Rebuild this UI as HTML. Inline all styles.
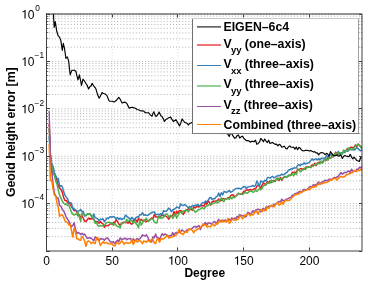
<!DOCTYPE html><html><head><meta charset="utf-8"><style>html,body{margin:0;padding:0;background:#fff;}svg{display:block;will-change:transform;}text{font-family:"Liberation Sans",sans-serif;}</style></head><body>
<svg width="368" height="283" viewBox="0 0 368 283">
<rect width="368" height="283" fill="#fff"/>
<g stroke="#b0b0b0" stroke-width="1" stroke-dasharray="1 2.1"><line x1="49.0" y1="236.73" x2="361.0" y2="236.73"/><line x1="49.0" y1="228.38" x2="361.0" y2="228.38"/><line x1="49.0" y1="222.46" x2="361.0" y2="222.46"/><line x1="49.0" y1="217.87" x2="361.0" y2="217.87"/><line x1="49.0" y1="214.12" x2="361.0" y2="214.12"/><line x1="49.0" y1="210.94" x2="361.0" y2="210.94"/><line x1="49.0" y1="208.19" x2="361.0" y2="208.19"/><line x1="49.0" y1="205.77" x2="361.0" y2="205.77"/><line x1="49.0" y1="203.60" x2="361.0" y2="203.60"/><line x1="49.0" y1="189.33" x2="361.0" y2="189.33"/><line x1="49.0" y1="180.98" x2="361.0" y2="180.98"/><line x1="49.0" y1="175.06" x2="361.0" y2="175.06"/><line x1="49.0" y1="170.47" x2="361.0" y2="170.47"/><line x1="49.0" y1="166.72" x2="361.0" y2="166.72"/><line x1="49.0" y1="163.54" x2="361.0" y2="163.54"/><line x1="49.0" y1="160.79" x2="361.0" y2="160.79"/><line x1="49.0" y1="158.37" x2="361.0" y2="158.37"/><line x1="49.0" y1="156.20" x2="361.0" y2="156.20"/><line x1="49.0" y1="141.93" x2="361.0" y2="141.93"/><line x1="49.0" y1="133.58" x2="361.0" y2="133.58"/><line x1="49.0" y1="127.66" x2="361.0" y2="127.66"/><line x1="49.0" y1="123.07" x2="361.0" y2="123.07"/><line x1="49.0" y1="119.32" x2="361.0" y2="119.32"/><line x1="49.0" y1="116.14" x2="361.0" y2="116.14"/><line x1="49.0" y1="113.39" x2="361.0" y2="113.39"/><line x1="49.0" y1="110.97" x2="361.0" y2="110.97"/><line x1="49.0" y1="108.80" x2="361.0" y2="108.80"/><line x1="49.0" y1="94.53" x2="361.0" y2="94.53"/><line x1="49.0" y1="86.18" x2="361.0" y2="86.18"/><line x1="49.0" y1="80.26" x2="361.0" y2="80.26"/><line x1="49.0" y1="75.67" x2="361.0" y2="75.67"/><line x1="49.0" y1="71.92" x2="361.0" y2="71.92"/><line x1="49.0" y1="68.74" x2="361.0" y2="68.74"/><line x1="49.0" y1="65.99" x2="361.0" y2="65.99"/><line x1="49.0" y1="63.57" x2="361.0" y2="63.57"/><line x1="49.0" y1="61.40" x2="361.0" y2="61.40"/><line x1="49.0" y1="47.13" x2="361.0" y2="47.13"/><line x1="49.0" y1="38.78" x2="361.0" y2="38.78"/><line x1="49.0" y1="32.86" x2="361.0" y2="32.86"/><line x1="49.0" y1="28.27" x2="361.0" y2="28.27"/><line x1="49.0" y1="24.52" x2="361.0" y2="24.52"/><line x1="49.0" y1="21.34" x2="361.0" y2="21.34"/><line x1="49.0" y1="18.59" x2="361.0" y2="18.59"/><line x1="49.0" y1="16.17" x2="361.0" y2="16.17"/><line x1="49.0" y1="14.00" x2="361.0" y2="14.00"/></g>
<g stroke="#dadada" stroke-width="1" stroke-dasharray="1 2.1"><line x1="112.23" y1="15.0" x2="112.23" y2="250.0"/><line x1="177.96" y1="15.0" x2="177.96" y2="250.0"/><line x1="243.69" y1="15.0" x2="243.69" y2="250.0"/><line x1="309.42" y1="15.0" x2="309.42" y2="250.0"/></g>
<defs><clipPath id="c"><rect x="46.5" y="14" width="315.5" height="237"/></clipPath></defs>
<g clip-path="url(#c)" fill="none" stroke-width="1.50" stroke-linejoin="round">
<polyline stroke="#E41A1C" points="49.13,123.72 50.44,155.31 51.76,166.00 53.07,173.32 54.39,175.04 55.70,177.24 57.02,180.56 58.33,185.39 59.65,188.05 60.96,189.41 62.28,192.38 63.59,197.21 64.90,200.56 66.22,200.40 67.53,202.64 68.85,203.69 70.16,202.69 71.48,206.75 72.79,207.53 74.11,210.69 75.42,210.13 76.74,211.42 78.05,215.88 79.37,214.72 80.68,217.46 81.99,215.76 83.31,218.23 84.62,221.19 85.94,221.61 87.25,219.81 88.57,218.15 89.88,219.25 91.20,218.43 92.51,218.64 93.83,219.44 95.14,221.32 96.45,221.39 97.77,222.02 99.08,223.16 100.40,221.64 101.71,223.12 103.03,223.64 104.34,227.32 105.66,225.41 106.97,225.84 108.29,225.56 109.60,224.50 110.92,223.11 112.23,224.51 113.54,222.34 114.86,222.44 116.17,219.68 117.49,221.45 118.80,223.95 120.12,225.36 121.43,223.58 122.75,222.55 124.06,222.47 125.38,222.34 126.69,222.49 128.01,223.14 129.32,221.62 130.63,223.70 131.95,224.13 133.26,221.29 134.58,219.32 135.89,219.98 137.21,222.12 138.52,218.13 139.84,220.75 141.15,219.31 142.47,220.69 143.78,220.51 145.09,220.82 146.41,221.69 147.72,220.36 149.04,220.73 150.35,219.00 151.67,218.07 152.98,218.41 154.30,214.41 155.61,216.83 156.93,217.14 158.24,216.59 159.56,217.81 160.87,216.36 162.18,214.01 163.50,215.97 164.81,215.35 166.13,216.34 167.44,217.26 168.76,219.14 170.07,216.60 171.39,215.69 172.70,215.65 174.02,211.47 175.33,215.57 176.65,211.29 177.96,213.39 179.27,210.69 180.59,210.66 181.90,211.29 183.22,214.53 184.53,212.42 185.85,210.12 187.16,210.23 188.48,208.54 189.79,209.84 191.11,208.65 192.42,210.19 193.74,206.74 195.05,207.89 196.36,206.81 197.68,206.32 198.99,207.02 200.31,205.87 201.62,205.68 202.94,205.58 204.25,205.99 205.57,202.03 206.88,204.32 208.20,200.71 209.51,202.68 210.82,205.02 212.14,201.70 213.45,201.07 214.77,201.42 216.08,200.82 217.40,200.45 218.71,199.01 220.03,201.08 221.34,200.43 222.66,198.57 223.97,198.85 225.29,198.90 226.60,198.98 227.91,197.74 229.23,197.72 230.54,196.09 231.86,194.69 233.17,195.03 234.49,196.56 235.80,196.11 237.12,194.69 238.43,193.42 239.75,193.89 241.06,194.32 242.38,193.46 243.69,191.29 245.00,191.18 246.32,190.00 247.63,189.76 248.95,190.16 250.26,189.45 251.58,190.03 252.89,189.86 254.21,188.83 255.52,188.87 256.84,186.22 258.15,185.05 259.47,186.36 260.78,188.26 262.09,185.15 263.41,182.96 264.72,183.97 266.04,184.73 267.35,181.53 268.67,182.98 269.98,180.92 271.30,182.39 272.61,181.33 273.93,180.28 275.24,181.50 276.56,178.74 277.87,178.21 279.18,180.55 280.50,177.52 281.81,180.36 283.13,177.86 284.44,176.94 285.76,176.97 287.07,176.44 288.39,175.87 289.70,175.02 291.02,175.04 292.33,172.33 293.64,172.60 294.96,172.02 296.27,173.27 297.59,169.08 298.90,170.13 300.22,168.83 301.53,168.76 302.85,169.48 304.16,168.72 305.48,169.18 306.79,166.69 308.11,167.00 309.42,167.35 310.73,166.57 312.05,164.86 313.36,165.74 314.68,163.25 315.99,165.35 317.31,163.25 318.62,162.47 319.94,162.32 321.25,162.35 322.57,162.69 323.88,160.36 325.20,159.62 326.51,160.02 327.82,158.26 329.14,156.98 330.45,158.07 331.77,156.51 333.08,156.87 334.40,154.47 335.71,152.15 337.03,154.67 338.34,154.01 339.66,154.87 340.97,153.30 342.29,152.56 343.60,152.21 344.91,150.64 346.23,150.41 347.54,148.38 348.86,149.52 350.17,147.59 351.49,147.28 352.80,147.63 354.12,147.16 355.43,144.94 356.75,146.75 358.06,143.98 359.37,145.31 360.69,146.62 362.00,147.02"/>
<polyline stroke="#377EB8" points="49.13,136.43 50.44,155.22 51.76,164.15 53.07,166.23 54.39,172.41 55.70,175.65 57.02,178.66 58.33,178.48 59.65,186.54 60.96,185.68 62.28,186.60 63.59,191.33 64.90,195.05 66.22,197.13 67.53,198.75 68.85,202.34 70.16,203.58 71.48,203.13 72.79,209.09 74.11,208.81 75.42,209.77 76.74,211.20 78.05,211.08 79.37,210.77 80.68,209.52 81.99,211.64 83.31,211.49 84.62,216.09 85.94,214.95 87.25,214.55 88.57,213.71 89.88,214.22 91.20,215.20 92.51,217.89 93.83,213.94 95.14,217.63 96.45,218.14 97.77,218.85 99.08,221.10 100.40,219.09 101.71,219.54 103.03,218.77 104.34,221.75 105.66,220.00 106.97,217.96 108.29,218.72 109.60,216.91 110.92,216.73 112.23,217.19 113.54,216.43 114.86,217.37 116.17,219.10 117.49,217.51 118.80,219.43 120.12,218.15 121.43,219.59 122.75,218.69 124.06,218.85 125.38,215.18 126.69,216.14 128.01,217.21 129.32,218.51 130.63,219.28 131.95,217.38 133.26,219.02 134.58,219.75 135.89,217.68 137.21,216.81 138.52,216.89 139.84,214.74 141.15,214.75 142.47,212.72 143.78,215.16 145.09,214.79 146.41,215.23 147.72,215.49 149.04,214.37 150.35,213.38 151.67,212.70 152.98,212.07 154.30,211.93 155.61,214.80 156.93,214.47 158.24,214.22 159.56,214.74 160.87,213.61 162.18,214.91 163.50,210.81 164.81,211.17 166.13,211.33 167.44,210.03 168.76,208.08 170.07,209.32 171.39,211.73 172.70,209.84 174.02,209.29 175.33,208.60 176.65,206.96 177.96,207.40 179.27,208.26 180.59,203.81 181.90,205.36 183.22,205.57 184.53,204.56 185.85,205.46 187.16,206.50 188.48,207.87 189.79,206.61 191.11,207.25 192.42,205.35 193.74,206.05 195.05,205.14 196.36,205.31 197.68,204.27 198.99,205.84 200.31,205.65 201.62,203.49 202.94,202.65 204.25,202.43 205.57,201.05 206.88,201.84 208.20,200.36 209.51,197.84 210.82,197.53 212.14,199.47 213.45,198.73 214.77,198.72 216.08,196.89 217.40,196.17 218.71,193.11 220.03,196.46 221.34,192.69 222.66,194.88 223.97,191.58 225.29,191.82 226.60,192.49 227.91,191.33 229.23,190.58 230.54,192.24 231.86,191.57 233.17,190.83 234.49,189.51 235.80,188.52 237.12,188.58 238.43,188.14 239.75,188.42 241.06,189.11 242.38,187.67 243.69,186.63 245.00,186.56 246.32,188.56 247.63,186.93 248.95,186.71 250.26,186.38 251.58,186.36 252.89,185.45 254.21,186.27 255.52,185.46 256.84,180.90 258.15,183.50 259.47,186.32 260.78,180.88 262.09,181.79 263.41,182.17 264.72,180.30 266.04,181.09 267.35,177.77 268.67,177.40 269.98,178.16 271.30,177.19 272.61,176.46 273.93,177.80 275.24,177.10 276.56,176.43 277.87,175.60 279.18,175.89 280.50,175.10 281.81,174.09 283.13,174.94 284.44,174.15 285.76,172.97 287.07,172.35 288.39,170.24 289.70,169.84 291.02,168.82 292.33,169.14 293.64,167.91 294.96,168.09 296.27,167.81 297.59,165.54 298.90,164.45 300.22,165.57 301.53,164.44 302.85,164.16 304.16,162.90 305.48,164.10 306.79,163.24 308.11,162.93 309.42,162.32 310.73,160.64 312.05,158.83 313.36,160.20 314.68,159.33 315.99,158.91 317.31,159.92 318.62,158.63 319.94,159.90 321.25,158.35 322.57,158.56 323.88,158.12 325.20,158.10 326.51,155.59 327.82,157.32 329.14,155.86 330.45,154.29 331.77,155.30 333.08,154.52 334.40,155.02 335.71,154.22 337.03,153.60 338.34,151.41 339.66,154.32 340.97,153.88 342.29,152.93 343.60,152.28 344.91,152.61 346.23,150.22 347.54,151.34 348.86,150.30 350.17,148.93 351.49,149.86 352.80,149.47 354.12,149.99 355.43,149.36 356.75,147.75 358.06,148.44 359.37,150.03 360.69,150.75 362.00,150.30"/>
<polyline stroke="#4DAF4A" points="49.13,128.67 50.44,158.25 51.76,165.86 53.07,173.14 54.39,175.02 55.70,181.12 57.02,184.33 58.33,190.40 59.65,195.40 60.96,198.03 62.28,201.23 63.59,202.96 64.90,204.31 66.22,204.08 67.53,205.58 68.85,204.88 70.16,208.84 71.48,212.21 72.79,214.11 74.11,215.08 75.42,214.08 76.74,214.60 78.05,212.28 79.37,217.16 80.68,221.28 81.99,213.00 83.31,214.55 84.62,215.15 85.94,215.94 87.25,213.72 88.57,214.00 89.88,213.44 91.20,216.18 92.51,216.26 93.83,219.00 95.14,223.30 96.45,222.37 97.77,225.64 99.08,226.32 100.40,225.62 101.71,225.94 103.03,225.61 104.34,225.43 105.66,223.61 106.97,222.63 108.29,222.35 109.60,222.26 110.92,223.40 112.23,222.97 113.54,225.15 114.86,223.56 116.17,225.33 117.49,226.53 118.80,226.57 120.12,227.98 121.43,223.41 122.75,223.48 124.06,222.07 125.38,222.45 126.69,219.30 128.01,221.56 129.32,220.32 130.63,220.72 131.95,220.58 133.26,223.31 134.58,221.18 135.89,223.51 137.21,224.85 138.52,227.75 139.84,219.90 141.15,225.14 142.47,223.16 143.78,219.82 145.09,220.03 146.41,218.18 147.72,221.34 149.04,220.76 150.35,219.64 151.67,218.81 152.98,219.12 154.30,222.12 155.61,222.95 156.93,222.79 158.24,217.65 159.56,215.80 160.87,218.31 162.18,218.09 163.50,217.17 164.81,215.37 166.13,214.07 167.44,214.29 168.76,216.99 170.07,215.76 171.39,215.52 172.70,218.53 174.02,216.13 175.33,213.59 176.65,218.29 177.96,215.48 179.27,212.97 180.59,211.68 181.90,213.56 183.22,211.44 184.53,210.72 185.85,210.16 187.16,210.53 188.48,211.95 189.79,209.34 191.11,207.41 192.42,209.07 193.74,210.13 195.05,212.10 196.36,211.80 197.68,210.25 198.99,209.72 200.31,209.18 201.62,207.69 202.94,208.05 204.25,208.91 205.57,206.83 206.88,205.87 208.20,205.45 209.51,204.35 210.82,203.94 212.14,204.11 213.45,203.04 214.77,203.06 216.08,200.98 217.40,203.05 218.71,202.11 220.03,199.97 221.34,197.92 222.66,200.55 223.97,201.62 225.29,198.82 226.60,198.77 227.91,198.27 229.23,199.46 230.54,197.03 231.86,198.92 233.17,196.76 234.49,197.77 235.80,196.12 237.12,195.26 238.43,193.19 239.75,193.69 241.06,193.82 242.38,194.54 243.69,193.64 245.00,192.11 246.32,193.04 247.63,193.32 248.95,191.61 250.26,191.14 251.58,191.06 252.89,192.32 254.21,191.87 255.52,190.06 256.84,191.41 258.15,190.00 259.47,188.65 260.78,189.83 262.09,188.31 263.41,185.56 264.72,185.40 266.04,184.81 267.35,182.86 268.67,182.88 269.98,183.19 271.30,180.04 272.61,181.74 273.93,181.63 275.24,180.85 276.56,178.55 277.87,179.88 279.18,178.29 280.50,179.36 281.81,179.00 283.13,178.23 284.44,176.84 285.76,176.45 287.07,177.30 288.39,175.03 289.70,175.81 291.02,175.26 292.33,173.94 293.64,175.94 294.96,173.14 296.27,174.59 297.59,170.08 298.90,169.34 300.22,171.91 301.53,171.06 302.85,169.63 304.16,169.36 305.48,167.06 306.79,167.76 308.11,166.85 309.42,167.11 310.73,167.65 312.05,166.33 313.36,166.12 314.68,164.57 315.99,164.30 317.31,164.24 318.62,163.17 319.94,163.97 321.25,161.23 322.57,163.19 323.88,159.75 325.20,161.02 326.51,158.60 327.82,160.27 329.14,158.16 330.45,157.76 331.77,157.43 333.08,155.45 334.40,154.46 335.71,152.98 337.03,155.57 338.34,153.19 339.66,152.76 340.97,152.77 342.29,154.18 343.60,150.08 344.91,151.46 346.23,150.32 347.54,150.68 348.86,147.92 350.17,148.75 351.49,149.41 352.80,149.07 354.12,148.28 355.43,145.47 356.75,145.39 358.06,144.44 359.37,144.87 360.69,146.98 362.00,149.33"/>
<polyline stroke="#984EA3" points="49.13,111.12 50.44,160.38 51.76,171.68 53.07,184.07 54.39,193.26 55.70,195.92 57.02,197.69 58.33,198.25 59.65,205.51 60.96,206.44 62.28,209.28 63.59,210.68 64.90,213.71 66.22,217.05 67.53,219.19 68.85,221.13 70.16,224.17 71.48,226.80 72.79,225.53 74.11,222.73 75.42,229.28 76.74,233.75 78.05,232.43 79.37,233.16 80.68,234.35 81.99,233.37 83.31,234.87 84.62,234.03 85.94,236.42 87.25,238.25 88.57,237.88 89.88,237.79 91.20,238.22 92.51,239.53 93.83,240.83 95.14,236.87 96.45,237.81 97.77,239.50 99.08,240.84 100.40,238.55 101.71,238.92 103.03,238.96 104.34,240.34 105.66,238.83 106.97,237.79 108.29,238.87 109.60,240.97 110.92,242.08 112.23,242.09 113.54,241.76 114.86,243.63 116.17,241.67 117.49,240.16 118.80,241.78 120.12,238.05 121.43,239.10 122.75,239.44 124.06,238.70 125.38,238.11 126.69,239.76 128.01,238.69 129.32,238.87 130.63,238.44 131.95,241.71 133.26,238.71 134.58,241.05 135.89,239.66 137.21,238.48 138.52,239.65 139.84,238.84 141.15,237.09 142.47,234.79 143.78,235.75 145.09,236.02 146.41,234.75 147.72,237.28 149.04,239.80 150.35,240.73 151.67,242.00 152.98,236.83 154.30,237.73 155.61,234.10 156.93,237.64 158.24,237.76 159.56,239.42 160.87,236.48 162.18,233.81 163.50,235.14 164.81,233.94 166.13,234.57 167.44,235.60 168.76,236.39 170.07,235.59 171.39,235.60 172.70,232.52 174.02,235.77 175.33,233.01 176.65,232.55 177.96,232.96 179.27,232.08 180.59,231.85 181.90,229.96 183.22,230.86 184.53,231.38 185.85,231.87 187.16,229.70 188.48,229.48 189.79,229.31 191.11,229.11 192.42,228.09 193.74,226.93 195.05,226.39 196.36,227.40 197.68,226.27 198.99,225.63 200.31,229.42 201.62,226.07 202.94,225.69 204.25,224.41 205.57,222.53 206.88,225.03 208.20,223.08 209.51,222.93 210.82,223.86 212.14,223.50 213.45,222.16 214.77,221.54 216.08,223.85 217.40,221.70 218.71,219.47 220.03,221.49 221.34,220.52 222.66,220.16 223.97,220.75 225.29,219.98 226.60,221.92 227.91,219.52 229.23,219.36 230.54,220.23 231.86,217.96 233.17,219.62 234.49,218.04 235.80,219.09 237.12,216.30 238.43,217.36 239.75,214.62 241.06,215.54 242.38,215.65 243.69,215.77 245.00,217.02 246.32,216.42 247.63,212.44 248.95,212.66 250.26,214.43 251.58,213.10 252.89,210.71 254.21,212.28 255.52,210.11 256.84,209.97 258.15,209.10 259.47,209.68 260.78,211.83 262.09,209.40 263.41,208.41 264.72,210.63 266.04,207.10 267.35,206.91 268.67,206.27 269.98,206.44 271.30,205.18 272.61,206.40 273.93,204.16 275.24,204.47 276.56,203.62 277.87,202.07 279.18,201.44 280.50,201.81 281.81,199.18 283.13,200.84 284.44,200.33 285.76,199.76 287.07,199.02 288.39,198.65 289.70,197.64 291.02,197.30 292.33,195.12 293.64,195.52 294.96,193.59 296.27,193.80 297.59,192.47 298.90,192.03 300.22,191.23 301.53,192.68 302.85,190.03 304.16,189.45 305.48,190.26 306.79,189.69 308.11,188.72 309.42,187.05 310.73,186.56 312.05,187.19 313.36,184.68 314.68,185.39 315.99,184.73 317.31,183.57 318.62,181.96 319.94,184.37 321.25,182.37 322.57,182.04 323.88,181.13 325.20,180.22 326.51,180.43 327.82,180.36 329.14,179.14 330.45,179.24 331.77,179.38 333.08,178.38 334.40,177.41 335.71,177.78 337.03,176.99 338.34,176.31 339.66,174.13 340.97,172.55 342.29,174.23 343.60,173.09 344.91,172.32 346.23,172.69 347.54,171.47 348.86,170.93 350.17,172.71 351.49,169.28 352.80,171.06 354.12,170.82 355.43,171.10 356.75,169.34 358.06,169.17 359.37,167.49 360.69,167.88 362.00,165.72"/>
<polyline stroke="#FF7F00" points="49.13,143.88 50.44,180.56 51.76,180.57 53.07,188.96 54.39,195.17 55.70,196.21 57.02,203.20 58.33,207.93 59.65,216.34 60.96,214.92 62.28,214.87 63.59,217.16 64.90,220.73 66.22,221.93 67.53,222.67 68.85,224.92 70.16,224.51 71.48,230.57 72.79,237.09 74.11,228.05 75.42,231.44 76.74,238.67 78.05,238.84 79.37,240.03 80.68,240.30 81.99,236.37 83.31,238.05 84.62,241.09 85.94,246.34 87.25,241.72 88.57,240.95 89.88,241.86 91.20,243.63 92.51,242.35 93.83,242.81 95.14,243.66 96.45,238.34 97.77,237.57 99.08,241.30 100.40,245.42 101.71,243.56 103.03,241.70 104.34,243.19 105.66,242.57 106.97,242.83 108.29,243.64 109.60,243.66 110.92,243.91 112.23,243.54 113.54,245.79 114.86,245.84 116.17,243.40 117.49,242.42 118.80,243.91 120.12,243.26 121.43,240.89 122.75,241.89 124.06,244.29 125.38,242.70 126.69,242.49 128.01,243.43 129.32,243.02 130.63,242.67 131.95,239.43 133.26,244.45 134.58,241.77 135.89,239.78 137.21,242.23 138.52,241.09 139.84,240.52 141.15,241.94 142.47,243.62 143.78,240.93 145.09,241.38 146.41,242.31 147.72,240.25 149.04,241.13 150.35,242.11 151.67,239.26 152.98,239.53 154.30,242.85 155.61,243.54 156.93,239.57 158.24,238.78 159.56,242.24 160.87,239.03 162.18,238.80 163.50,239.03 164.81,237.92 166.13,236.48 167.44,235.00 168.76,238.13 170.07,237.42 171.39,237.23 172.70,236.37 174.02,236.44 175.33,235.51 176.65,234.56 177.96,232.06 179.27,229.43 180.59,233.60 181.90,233.48 183.22,234.59 184.53,232.41 185.85,231.37 187.16,232.44 188.48,229.28 189.79,229.63 191.11,229.30 192.42,230.72 193.74,232.82 195.05,230.20 196.36,230.12 197.68,228.93 198.99,228.55 200.31,227.30 201.62,227.13 202.94,223.86 204.25,225.10 205.57,224.59 206.88,226.99 208.20,226.36 209.51,226.57 210.82,226.70 212.14,223.89 213.45,225.23 214.77,225.97 216.08,223.07 217.40,224.23 218.71,222.42 220.03,220.39 221.34,222.32 222.66,220.93 223.97,221.85 225.29,220.93 226.60,221.65 227.91,218.45 229.23,223.32 230.54,222.21 231.86,219.94 233.17,219.05 234.49,219.82 235.80,220.19 237.12,219.48 238.43,219.04 239.75,215.89 241.06,216.45 242.38,218.86 243.69,217.18 245.00,214.79 246.32,215.06 247.63,213.96 248.95,213.97 250.26,215.93 251.58,213.93 252.89,214.93 254.21,213.44 255.52,211.14 256.84,211.61 258.15,214.30 259.47,210.54 260.78,209.77 262.09,211.71 263.41,210.02 264.72,209.44 266.04,210.49 267.35,206.64 268.67,208.37 269.98,206.34 271.30,205.47 272.61,205.55 273.93,207.00 275.24,205.18 276.56,203.00 277.87,203.20 279.18,205.26 280.50,204.25 281.81,201.69 283.13,204.54 284.44,201.47 285.76,200.36 287.07,200.38 288.39,200.40 289.70,200.18 291.02,198.92 292.33,197.16 293.64,196.12 294.96,194.67 296.27,194.69 297.59,193.74 298.90,194.04 300.22,192.18 301.53,192.40 302.85,191.59 304.16,190.82 305.48,190.37 306.79,189.92 308.11,189.00 309.42,189.84 310.73,188.64 312.05,186.56 313.36,187.48 314.68,186.51 315.99,186.82 317.31,184.67 318.62,184.26 319.94,183.42 321.25,183.77 322.57,183.71 323.88,183.02 325.20,182.23 326.51,182.59 327.82,181.72 329.14,181.37 330.45,179.78 331.77,180.33 333.08,178.73 334.40,178.37 335.71,178.80 337.03,180.09 338.34,178.57 339.66,177.16 340.97,176.49 342.29,177.07 343.60,177.01 344.91,176.47 346.23,174.79 347.54,174.74 348.86,173.88 350.17,173.53 351.49,172.62 352.80,172.64 354.12,170.36 355.43,170.71 356.75,171.67 358.06,169.89 359.37,170.71 360.69,169.17 362.00,169.16"/>
<polyline stroke="#000" stroke-width="1.15" points="53.20,10.00 54.20,27.30 55.30,21.70 56.80,31.50 58.10,35.70 59.50,37.10 60.80,40.40 62.30,50.50 63.30,43.40 64.50,48.40 65.90,58.30 67.30,56.90 68.70,61.10 69.40,68.20 70.20,74.80 71.70,70.60 72.79,70.22 74.50,70.20 75.90,71.30 76.74,75.13 78.00,79.80 79.40,74.80 80.68,81.06 81.50,85.40 83.00,79.10 84.62,81.26 85.80,83.30 87.25,85.44 88.60,89.00 89.88,86.72 91.20,85.75 92.10,83.30 93.83,86.07 95.70,88.30 97.77,95.07 99.20,98.20 100.40,96.02 102.10,92.40 103.03,93.24 104.34,93.75 105.30,94.10 106.97,95.59 108.80,100.30 109.60,101.25 110.92,101.27 112.40,101.20 114.10,102.10 116.17,100.52 117.70,98.60 118.80,97.45 120.30,99.40 122.10,103.00 124.70,102.10 126.69,103.31 128.01,105.87 129.20,108.30 130.63,107.52 132.70,107.40 135.30,108.30 137.21,109.47 138.90,110.00 139.84,110.20 141.15,111.04 142.40,110.90 143.78,111.04 145.09,112.56 145.90,112.70 148.50,112.70 150.35,114.85 152.10,116.20 152.98,113.33 153.80,111.80 155.61,116.26 156.50,116.20 158.24,113.94 159.10,112.10 160.87,115.84 161.80,116.20 163.50,119.12 164.40,121.50 166.13,119.18 167.10,118.90 168.76,117.74 170.60,117.10 173.30,121.50 175.90,119.70 177.96,123.15 179.50,125.90 180.59,123.52 182.10,118.90 183.22,120.57 184.80,122.40 185.85,122.78 187.16,123.31 188.30,125.00 189.79,123.43 191.80,122.40 193.74,124.59 195.05,122.94 196.36,124.67 197.68,125.45 198.99,123.92 200.31,126.15 201.62,127.92 202.94,124.67 204.25,126.92 205.57,127.55 206.88,127.17 208.20,129.01 209.51,128.78 210.82,127.65 212.14,130.58 213.45,130.82 214.77,131.53 216.08,132.49 217.40,131.71 218.71,131.94 220.03,130.94 221.34,133.62 222.66,132.83 223.97,133.57 225.29,133.04 226.60,133.59 227.91,134.30 229.23,136.51 230.54,133.05 231.86,133.87 233.17,136.11 234.49,138.13 235.80,137.87 237.12,135.61 238.43,134.95 239.75,138.09 241.06,136.84 242.38,136.14 243.69,138.18 245.00,139.51 246.32,140.57 247.63,140.67 248.95,140.88 250.26,142.15 251.58,141.30 252.89,141.41 254.21,141.67 255.52,140.21 256.84,144.31 258.15,143.46 259.47,142.13 260.78,138.51 262.09,139.87 263.41,141.73 264.72,139.06 266.04,141.04 267.35,142.55 268.67,140.17 269.98,143.57 271.30,142.85 272.61,142.54 273.93,143.51 275.24,144.32 276.56,144.19 277.87,145.77 279.18,144.27 280.50,145.09 281.81,147.23 283.13,146.66 284.44,146.20 285.76,148.44 287.07,149.01 288.39,146.91 289.70,145.88 291.02,147.25 292.33,147.24 293.64,147.11 294.96,149.31 296.27,146.96 297.59,149.80 298.90,147.34 300.22,148.19 301.53,150.08 302.85,150.85 304.16,150.73 305.48,150.33 306.79,150.28 308.11,150.47 309.42,151.10 310.73,150.49 312.05,151.31 313.36,151.96 314.68,151.66 315.99,152.82 317.31,152.93 318.62,154.84 319.94,153.19 321.25,152.53 322.57,152.76 323.88,153.33 325.20,154.53 326.51,153.31 327.82,154.31 329.14,156.16 330.45,151.65 331.77,153.43 333.08,155.19 334.40,155.62 335.71,155.60 337.03,154.93 338.34,156.19 339.66,155.85 340.97,155.04 342.29,158.35 343.60,156.26 344.91,155.52 346.23,156.27 347.54,156.39 348.86,156.82 350.17,154.39 351.49,156.86 352.80,159.00 354.12,157.11 355.43,158.82 356.75,160.44 358.06,160.84 359.37,161.48 360.69,157.53 362.00,158.81"/>
</g>
<g fill="none">
<line x1="46.5" y1="13" x2="46.5" y2="252" stroke="#404040" stroke-width="1"/>
<g stroke="#000" stroke-width="0.75">
<line x1="47" y1="14" x2="362.5" y2="14"/>
<line x1="47" y1="251" x2="362.5" y2="251"/>
<line x1="362" y1="14.4" x2="362" y2="250.6"/>
</g><g stroke="#808080" stroke-width="1" stroke-dasharray="1 2">
<line x1="48" y1="14" x2="361" y2="14"/>
</g>
<g stroke="#404040" stroke-width="1"><line x1="47" y1="251.5" x2="50" y2="251.5"/><line x1="359" y1="251.5" x2="362" y2="251.5"/><line x1="47" y1="203.5" x2="50" y2="203.5"/><line x1="359" y1="203.5" x2="362" y2="203.5"/><line x1="47" y1="156.5" x2="50" y2="156.5"/><line x1="359" y1="156.5" x2="362" y2="156.5"/><line x1="47" y1="108.5" x2="50" y2="108.5"/><line x1="359" y1="108.5" x2="362" y2="108.5"/><line x1="47" y1="61.5" x2="50" y2="61.5"/><line x1="359" y1="61.5" x2="362" y2="61.5"/><line x1="47" y1="14.5" x2="50" y2="14.5"/><line x1="359" y1="14.5" x2="362" y2="14.5"/><line x1="46.5" y1="250.5" x2="46.5" y2="247.5"/><line x1="46.5" y1="14.5" x2="46.5" y2="17.5"/><line x1="112.5" y1="250.5" x2="112.5" y2="247.5"/><line x1="112.5" y1="14.5" x2="112.5" y2="17.5"/><line x1="177.5" y1="250.5" x2="177.5" y2="247.5"/><line x1="177.5" y1="14.5" x2="177.5" y2="17.5"/><line x1="243.5" y1="250.5" x2="243.5" y2="247.5"/><line x1="243.5" y1="14.5" x2="243.5" y2="17.5"/><line x1="309.5" y1="250.5" x2="309.5" y2="247.5"/><line x1="309.5" y1="14.5" x2="309.5" y2="17.5"/></g>
<g stroke="#909090" stroke-width="1"><line x1="47" y1="236.5" x2="48" y2="236.5" stroke="#707070"/><line x1="48" y1="236.5" x2="49" y2="236.5" stroke="#d8d8d8"/><line x1="361" y1="236.5" x2="362" y2="236.5" stroke="#606060"/><line x1="47" y1="228.5" x2="48" y2="228.5" stroke="#707070"/><line x1="48" y1="228.5" x2="49" y2="228.5" stroke="#d8d8d8"/><line x1="361" y1="228.5" x2="362" y2="228.5" stroke="#606060"/><line x1="47" y1="222.5" x2="48" y2="222.5" stroke="#707070"/><line x1="48" y1="222.5" x2="49" y2="222.5" stroke="#d8d8d8"/><line x1="361" y1="222.5" x2="362" y2="222.5" stroke="#606060"/><line x1="47" y1="217.5" x2="48" y2="217.5" stroke="#707070"/><line x1="48" y1="217.5" x2="49" y2="217.5" stroke="#d8d8d8"/><line x1="361" y1="217.5" x2="362" y2="217.5" stroke="#606060"/><line x1="47" y1="214.5" x2="48" y2="214.5" stroke="#707070"/><line x1="48" y1="214.5" x2="49" y2="214.5" stroke="#d8d8d8"/><line x1="361" y1="214.5" x2="362" y2="214.5" stroke="#606060"/><line x1="47" y1="210.5" x2="48" y2="210.5" stroke="#707070"/><line x1="48" y1="210.5" x2="49" y2="210.5" stroke="#d8d8d8"/><line x1="361" y1="210.5" x2="362" y2="210.5" stroke="#606060"/><line x1="47" y1="208.5" x2="48" y2="208.5" stroke="#707070"/><line x1="48" y1="208.5" x2="49" y2="208.5" stroke="#d8d8d8"/><line x1="361" y1="208.5" x2="362" y2="208.5" stroke="#606060"/><line x1="47" y1="205.5" x2="48" y2="205.5" stroke="#707070"/><line x1="48" y1="205.5" x2="49" y2="205.5" stroke="#d8d8d8"/><line x1="361" y1="205.5" x2="362" y2="205.5" stroke="#606060"/><line x1="47" y1="189.5" x2="48" y2="189.5" stroke="#707070"/><line x1="48" y1="189.5" x2="49" y2="189.5" stroke="#d8d8d8"/><line x1="361" y1="189.5" x2="362" y2="189.5" stroke="#606060"/><line x1="47" y1="180.5" x2="48" y2="180.5" stroke="#707070"/><line x1="48" y1="180.5" x2="49" y2="180.5" stroke="#d8d8d8"/><line x1="361" y1="180.5" x2="362" y2="180.5" stroke="#606060"/><line x1="47" y1="175.5" x2="48" y2="175.5" stroke="#707070"/><line x1="48" y1="175.5" x2="49" y2="175.5" stroke="#d8d8d8"/><line x1="361" y1="175.5" x2="362" y2="175.5" stroke="#606060"/><line x1="47" y1="170.5" x2="48" y2="170.5" stroke="#707070"/><line x1="48" y1="170.5" x2="49" y2="170.5" stroke="#d8d8d8"/><line x1="361" y1="170.5" x2="362" y2="170.5" stroke="#606060"/><line x1="47" y1="166.5" x2="48" y2="166.5" stroke="#707070"/><line x1="48" y1="166.5" x2="49" y2="166.5" stroke="#d8d8d8"/><line x1="361" y1="166.5" x2="362" y2="166.5" stroke="#606060"/><line x1="47" y1="163.5" x2="48" y2="163.5" stroke="#707070"/><line x1="48" y1="163.5" x2="49" y2="163.5" stroke="#d8d8d8"/><line x1="361" y1="163.5" x2="362" y2="163.5" stroke="#606060"/><line x1="47" y1="160.5" x2="48" y2="160.5" stroke="#707070"/><line x1="48" y1="160.5" x2="49" y2="160.5" stroke="#d8d8d8"/><line x1="361" y1="160.5" x2="362" y2="160.5" stroke="#606060"/><line x1="47" y1="158.5" x2="48" y2="158.5" stroke="#707070"/><line x1="48" y1="158.5" x2="49" y2="158.5" stroke="#d8d8d8"/><line x1="361" y1="158.5" x2="362" y2="158.5" stroke="#606060"/><line x1="47" y1="141.5" x2="48" y2="141.5" stroke="#707070"/><line x1="48" y1="141.5" x2="49" y2="141.5" stroke="#d8d8d8"/><line x1="361" y1="141.5" x2="362" y2="141.5" stroke="#606060"/><line x1="47" y1="133.5" x2="48" y2="133.5" stroke="#707070"/><line x1="48" y1="133.5" x2="49" y2="133.5" stroke="#d8d8d8"/><line x1="361" y1="133.5" x2="362" y2="133.5" stroke="#606060"/><line x1="47" y1="127.5" x2="48" y2="127.5" stroke="#707070"/><line x1="48" y1="127.5" x2="49" y2="127.5" stroke="#d8d8d8"/><line x1="361" y1="127.5" x2="362" y2="127.5" stroke="#606060"/><line x1="47" y1="123.5" x2="48" y2="123.5" stroke="#707070"/><line x1="48" y1="123.5" x2="49" y2="123.5" stroke="#d8d8d8"/><line x1="361" y1="123.5" x2="362" y2="123.5" stroke="#606060"/><line x1="47" y1="119.5" x2="48" y2="119.5" stroke="#707070"/><line x1="48" y1="119.5" x2="49" y2="119.5" stroke="#d8d8d8"/><line x1="361" y1="119.5" x2="362" y2="119.5" stroke="#606060"/><line x1="47" y1="116.5" x2="48" y2="116.5" stroke="#707070"/><line x1="48" y1="116.5" x2="49" y2="116.5" stroke="#d8d8d8"/><line x1="361" y1="116.5" x2="362" y2="116.5" stroke="#606060"/><line x1="47" y1="113.5" x2="48" y2="113.5" stroke="#707070"/><line x1="48" y1="113.5" x2="49" y2="113.5" stroke="#d8d8d8"/><line x1="361" y1="113.5" x2="362" y2="113.5" stroke="#606060"/><line x1="47" y1="110.5" x2="48" y2="110.5" stroke="#707070"/><line x1="48" y1="110.5" x2="49" y2="110.5" stroke="#d8d8d8"/><line x1="361" y1="110.5" x2="362" y2="110.5" stroke="#606060"/><line x1="47" y1="94.5" x2="48" y2="94.5" stroke="#707070"/><line x1="48" y1="94.5" x2="49" y2="94.5" stroke="#d8d8d8"/><line x1="361" y1="94.5" x2="362" y2="94.5" stroke="#606060"/><line x1="47" y1="86.5" x2="48" y2="86.5" stroke="#707070"/><line x1="48" y1="86.5" x2="49" y2="86.5" stroke="#d8d8d8"/><line x1="361" y1="86.5" x2="362" y2="86.5" stroke="#606060"/><line x1="47" y1="80.5" x2="48" y2="80.5" stroke="#707070"/><line x1="48" y1="80.5" x2="49" y2="80.5" stroke="#d8d8d8"/><line x1="361" y1="80.5" x2="362" y2="80.5" stroke="#606060"/><line x1="47" y1="75.5" x2="48" y2="75.5" stroke="#707070"/><line x1="48" y1="75.5" x2="49" y2="75.5" stroke="#d8d8d8"/><line x1="361" y1="75.5" x2="362" y2="75.5" stroke="#606060"/><line x1="47" y1="71.5" x2="48" y2="71.5" stroke="#707070"/><line x1="48" y1="71.5" x2="49" y2="71.5" stroke="#d8d8d8"/><line x1="361" y1="71.5" x2="362" y2="71.5" stroke="#606060"/><line x1="47" y1="68.5" x2="48" y2="68.5" stroke="#707070"/><line x1="48" y1="68.5" x2="49" y2="68.5" stroke="#d8d8d8"/><line x1="361" y1="68.5" x2="362" y2="68.5" stroke="#606060"/><line x1="47" y1="65.5" x2="48" y2="65.5" stroke="#707070"/><line x1="48" y1="65.5" x2="49" y2="65.5" stroke="#d8d8d8"/><line x1="361" y1="65.5" x2="362" y2="65.5" stroke="#606060"/><line x1="47" y1="63.5" x2="48" y2="63.5" stroke="#707070"/><line x1="48" y1="63.5" x2="49" y2="63.5" stroke="#d8d8d8"/><line x1="361" y1="63.5" x2="362" y2="63.5" stroke="#606060"/><line x1="47" y1="47.5" x2="48" y2="47.5" stroke="#707070"/><line x1="48" y1="47.5" x2="49" y2="47.5" stroke="#d8d8d8"/><line x1="361" y1="47.5" x2="362" y2="47.5" stroke="#606060"/><line x1="47" y1="38.5" x2="48" y2="38.5" stroke="#707070"/><line x1="48" y1="38.5" x2="49" y2="38.5" stroke="#d8d8d8"/><line x1="361" y1="38.5" x2="362" y2="38.5" stroke="#606060"/><line x1="47" y1="32.5" x2="48" y2="32.5" stroke="#707070"/><line x1="48" y1="32.5" x2="49" y2="32.5" stroke="#d8d8d8"/><line x1="361" y1="32.5" x2="362" y2="32.5" stroke="#606060"/><line x1="47" y1="28.5" x2="48" y2="28.5" stroke="#707070"/><line x1="48" y1="28.5" x2="49" y2="28.5" stroke="#d8d8d8"/><line x1="361" y1="28.5" x2="362" y2="28.5" stroke="#606060"/><line x1="47" y1="24.5" x2="48" y2="24.5" stroke="#707070"/><line x1="48" y1="24.5" x2="49" y2="24.5" stroke="#d8d8d8"/><line x1="361" y1="24.5" x2="362" y2="24.5" stroke="#606060"/><line x1="47" y1="21.5" x2="48" y2="21.5" stroke="#707070"/><line x1="48" y1="21.5" x2="49" y2="21.5" stroke="#d8d8d8"/><line x1="361" y1="21.5" x2="362" y2="21.5" stroke="#606060"/><line x1="47" y1="18.5" x2="48" y2="18.5" stroke="#707070"/><line x1="48" y1="18.5" x2="49" y2="18.5" stroke="#d8d8d8"/><line x1="361" y1="18.5" x2="362" y2="18.5" stroke="#606060"/><line x1="47" y1="16.5" x2="48" y2="16.5" stroke="#707070"/><line x1="48" y1="16.5" x2="49" y2="16.5" stroke="#d8d8d8"/><line x1="361" y1="16.5" x2="362" y2="16.5" stroke="#606060"/></g>
</g>
<rect x="192" y="18" width="167" height="116" fill="#fff"/>
<line x1="192.5" y1="18" x2="192.5" y2="134" stroke="#707070"/>
<line x1="192" y1="18.5" x2="359" y2="18.5" stroke="#c8c8c8"/>
<line x1="358.5" y1="19" x2="358.5" y2="134" stroke="#a0a0a0"/>
<line x1="193" y1="133.5" x2="359" y2="133.5" stroke="#808080"/>
<line x1="197" y1="26.9" x2="221" y2="26.9" stroke="#222" stroke-width="1.2"/>
<text x="223.5" y="31.4" font-size="12.30" font-weight="bold">EIGEN–6c4</text>
<line x1="197" y1="45.0" x2="221" y2="45.0" stroke="#E41A1C" stroke-width="1.2"/>
<text x="223.5" y="47.5" font-size="12.30" font-weight="bold">V<tspan font-size="9.60" dx="-0.7" dy="5.5">yy</tspan><tspan dx="-0.3" dy="-5.5"> (one–axis)</tspan></text>
<line x1="197" y1="65.5" x2="221" y2="65.5" stroke="#377EB8" stroke-width="1"/>
<text x="223.5" y="68.0" font-size="12.30" font-weight="bold">V<tspan font-size="9.60" dx="-0.7" dy="5.5">xx</tspan><tspan dx="-0.3" dy="-5.5"> (three–axis)</tspan></text>
<line x1="197" y1="86.0" x2="221" y2="86.0" stroke="#4DAF4A" stroke-width="1.2"/>
<text x="223.5" y="88.4" font-size="12.30" font-weight="bold">V<tspan font-size="9.60" dx="-0.7" dy="5.5">yy</tspan><tspan dx="-0.3" dy="-5.5"> (three–axis)</tspan></text>
<line x1="197" y1="106.5" x2="221" y2="106.5" stroke="#984EA3" stroke-width="1"/>
<text x="223.5" y="108.8" font-size="12.30" font-weight="bold">V<tspan font-size="9.60" dx="-0.7" dy="5.5">zz</tspan><tspan dx="-0.3" dy="-5.5"> (three–axis)</tspan></text>
<line x1="197" y1="124.5" x2="221" y2="124.5" stroke="#FF7F00" stroke-width="1"/>
<text x="223.5" y="128.9" font-size="12.30" font-weight="bold">Combined (three–axis)</text>
<path d="M24.50,18.50 L25.60,18.50 L25.60,9.90 L24.80,9.90 Q24.40,11.20 22.50,11.50 L22.50,12.40 Q23.80,12.30 24.50,11.60 Z" fill="#000"/>
<text x="27.87" y="18.5" font-size="12.00">0</text>
<text x="35.2" y="10.7" font-size="8.3">0</text>
<path d="M24.50,65.90 L25.60,65.90 L25.60,57.30 L24.80,57.30 Q24.40,58.60 22.50,58.90 L22.50,59.80 Q23.80,59.70 24.50,59.00 Z" fill="#000"/>
<text x="27.87" y="65.9" font-size="12.00">0</text>
<text x="34.6" y="58.1" font-size="8.3">−1</text>
<path d="M24.50,113.30 L25.60,113.30 L25.60,104.70 L24.80,104.70 Q24.40,106.00 22.50,106.30 L22.50,107.20 Q23.80,107.10 24.50,106.40 Z" fill="#000"/>
<text x="27.87" y="113.3" font-size="12.00">0</text>
<text x="34.6" y="105.5" font-size="8.3">−2</text>
<path d="M24.50,160.70 L25.60,160.70 L25.60,152.10 L24.80,152.10 Q24.40,153.40 22.50,153.70 L22.50,154.60 Q23.80,154.50 24.50,153.80 Z" fill="#000"/>
<text x="27.87" y="160.7" font-size="12.00">0</text>
<text x="34.6" y="152.9" font-size="8.3">−3</text>
<path d="M24.50,208.10 L25.60,208.10 L25.60,199.50 L24.80,199.50 Q24.40,200.80 22.50,201.10 L22.50,202.00 Q23.80,201.90 24.50,201.20 Z" fill="#000"/>
<text x="27.87" y="208.1" font-size="12.00">0</text>
<text x="34.6" y="200.3" font-size="8.3">−4</text>
<text x="43.16" y="264.8" font-size="12.00">0</text>
<text x="105.56" y="264.8" font-size="12.00">50</text>
<path d="M171.26,264.80 L172.36,264.80 L172.36,256.20 L171.56,256.20 Q171.16,257.50 169.26,257.80 L169.26,258.70 Q170.56,258.60 171.26,257.90 Z" fill="#000"/>
<text x="174.62" y="264.8" font-size="12.00">00</text>
<path d="M236.99,264.80 L238.09,264.80 L238.09,256.20 L237.28,256.20 Q236.88,257.50 234.99,257.80 L234.99,258.70 Q236.28,258.60 236.99,257.90 Z" fill="#000"/>
<text x="240.35" y="264.8" font-size="12.00">50</text>
<text x="299.42" y="264.8" font-size="12.00">200</text>
<text x="204.8" y="276.5" font-size="12" font-weight="bold" text-anchor="middle">Degree</text>
<text transform="translate(15.3,132.2) rotate(-90)" x="0" y="0" font-size="12.30" font-weight="bold" text-anchor="middle">Geoid height error [m]</text>
</svg></body></html>
